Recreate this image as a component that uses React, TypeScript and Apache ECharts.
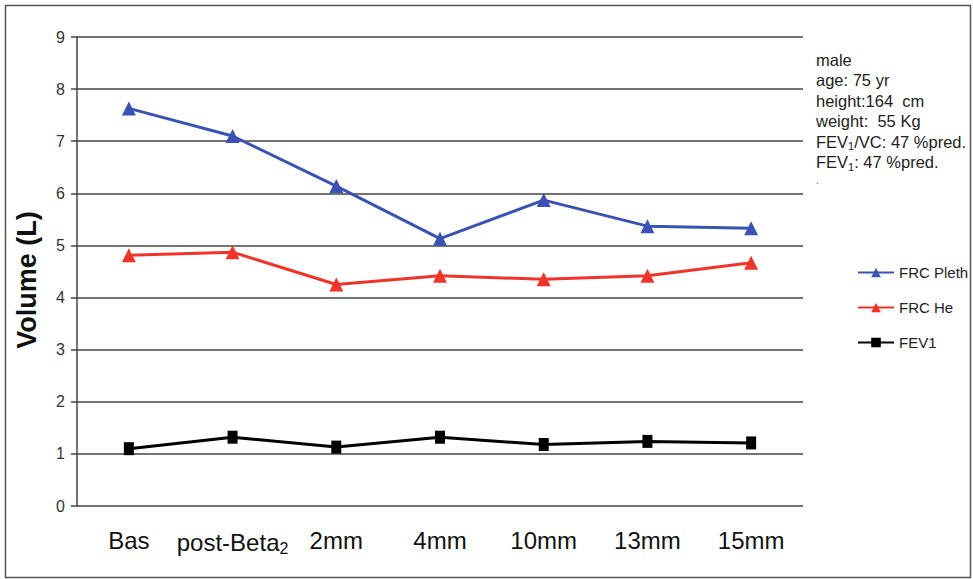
import React, { useEffect, useRef } from "react";
import * as echarts from "echarts";

const categories = ["Bas", "post-Beta2", "2mm", "4mm", "10mm", "13mm", "15mm"];
const frcPleth = [7.63, 7.1, 6.14, 5.13, 5.87, 5.37, 5.33];
const frcHe = [4.81, 4.87, 4.25, 4.42, 4.35, 4.42, 4.67];
const fev1 = [1.1, 1.32, 1.13, 1.32, 1.18, 1.24, 1.21];
const yTicks = [0, 1, 2, 3, 4, 5, 6, 7, 8, 9];
const yAxisTitle = "Volume (L)";
const notes = [
  "male",
  "age: 75 yr",
  "height:164  cm",
  "weight:  55 Kg",
  "FEV{sub|1}/VC: 47 %pred.",
  "FEV{sub|1}: 47 %pred.",
  "{dot|.}",
];

export default function App() {
  const ref = useRef<HTMLDivElement>(null);
  useEffect(() => {
    const chart = echarts.init(ref.current!, null, { renderer: "svg" });
    const font = "Arial, 'Liberation Sans', sans-serif";
    chart.setOption({
      animation: false,
      backgroundColor: "#fff",
      textStyle: { fontFamily: font },
      grid: { left: 77, right: 170, top: 37, bottom: 73 },
      legend: {
        orient: "vertical",
        left: 852,
        top: 260,
        itemWidth: 36,
        itemHeight: 12,
        itemGap: 20,
        textStyle: { fontSize: 15, color: "#222", fontFamily: font },
        data: ["FRC Pleth", "FRC He", "FEV1"],
      },
      xAxis: {
        type: "category",
        data: categories,
        boundaryGap: true,
        axisLine: { show: false },
        axisTick: { show: false },
        axisLabel: {
          interval: 0,
          color: "#111",
          fontSize: 24,
          margin: 22,
          fontFamily: font,
          formatter: (v: string) => (v === "post-Beta2" ? "post-Beta{sub|2}" : v),
          rich: {
            sub: { fontSize: 16, verticalAlign: "bottom", padding: [12, 0, 0, 0], color: "#111", fontFamily: font },
          },
        },
      },
      yAxis: {
        type: "value",
        min: yTicks[0],
        max: yTicks[yTicks.length - 1],
        interval: 1,
        axisLine: { show: true, lineStyle: { color: "#444", width: 1.5 } },
        axisTick: { show: true, length: 6, lineStyle: { color: "#444", width: 1.5 } },
        axisLabel: { color: "#333", fontSize: 16, margin: 12, fontFamily: font },
        splitLine: { show: true, lineStyle: { color: "#444", width: 1.5 } },
      },
      series: [
        {
          name: "FRC Pleth",
          type: "line",
          data: frcPleth,
          symbol: "triangle",
          symbolSize: 14,
          itemStyle: { color: "#3a52b4" },
          lineStyle: { color: "#3a52b4", width: 3 },
        },
        {
          name: "FRC He",
          type: "line",
          data: frcHe,
          symbol: "triangle",
          symbolSize: 14,
          itemStyle: { color: "#f0342a" },
          lineStyle: { color: "#f0342a", width: 3 },
        },
        {
          name: "FEV1",
          type: "line",
          data: fev1,
          symbol: "rect",
          symbolSize: [10, 13],
          itemStyle: { color: "#000" },
          lineStyle: { color: "#000", width: 3 },
        },
      ],
      graphic: [
        {
          type: "rect",
          left: 3,
          top: 3,
          shape: { width: 965, height: 572 },
          style: { fill: "none", stroke: "#555", lineWidth: 1.5 },
          silent: true,
        },
        {
          type: "text",
          x: 27,
          y: 280,
          rotation: Math.PI / 2,
          style: {
            text: yAxisTitle,
            fontSize: 27,
            fontWeight: "bold",
            fill: "#111",
            fontFamily: font,
            align: "center",
            verticalAlign: "middle",
          },
        },
        ...notes.map((t, i) => ({
          type: "text",
          left: 816,
          top: 51 + i * 20.5,
          style: {
            text: t,
            fontSize: 16.5,
            fill: "#222",
            fontFamily: font,
            rich: {
              sub: { fontSize: 11, verticalAlign: "bottom", padding: [9, 0, 0, 0], fill: "#222", fontFamily: font },
              dot: { fontSize: 11, fill: "#666", fontFamily: font },
            },
          },
        })),
      ],
    });
    return () => chart.dispose();
  }, []);
  return (
    <div
      ref={ref}
      style={{ position: "fixed", left: 0, top: 0, width: 973, height: 579 }}
    />
  );
}
